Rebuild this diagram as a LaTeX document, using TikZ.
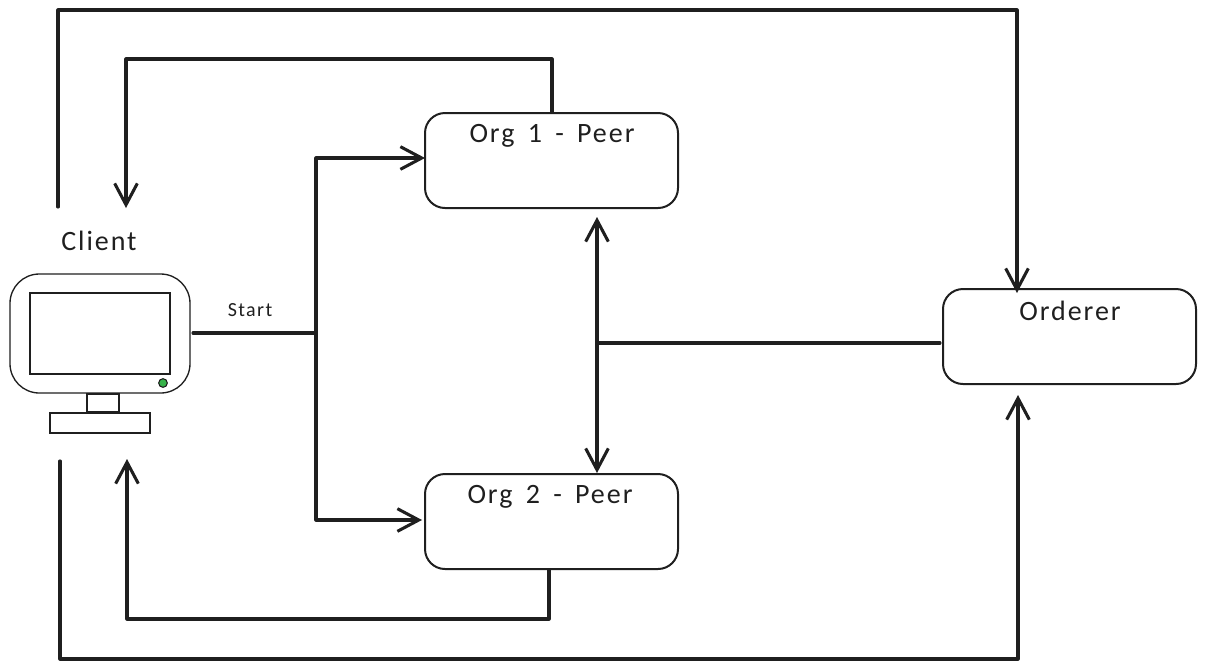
\documentclass[tikz,border=0pt]{standalone}
\usepackage{fontspec}
\setmainfont{Carlito}
\newfontfamily\sketchfont[LetterSpace=7,WordSpace=1.6]{Carlito}
\usetikzlibrary{arrows.meta}
\definecolor{ledgreen}{HTML}{36B24A}
\tikzset{
    procbox/.style={draw=black!88, line width=1.5pt, rounded corners=15pt, minimum width=189.75pt, minimum height=71.25pt, inner sep=0pt},
    devpart/.style={draw=black!88, line width=1pt, inner sep=0pt, fill=white},
    boxtext/.style={font=\sketchfont\fontsize{21}{23}\selectfont, text=black!88},
    flow/.style={draw=black!88, line width=2.3pt, line cap=round, line join=round},
    tip/.style={-{Straight Barb[length=16pt, width=17pt, line width=2.3pt]}},
    bothtip/.style={{Straight Barb[length=16pt, width=17pt, line width=2.3pt]}-{Straight Barb[length=16pt, width=17pt, line width=2.3pt]}}
}
\begin{document}
\begin{tikzpicture}[x=0.75pt, y=-0.75pt]
    \useasboundingbox (0,0) rectangle (1206,669);
    \node[procbox] (org-one) at (551.5,160.5) {};
\node[procbox] (org-two) at (551.5,521.5) {};
\node[procbox] (orderer) at (1069.5,336.5) {};
\node[boxtext] (org-one-text) at (552,136) {Org 1 - Peer};
\node[boxtext] (org-two-text) at (550,497) {Org 2 - Peer};
\node[boxtext] (orderer-text) at (1070,311) {Orderer};
\node[boxtext] (client-text) at (99,241) {Client};
\node[font=\sketchfont\fontsize{15}{17}\selectfont, text=black!88] (start-text) at (250,310) {Start};
% the client computer
\node[devpart, rounded corners=22pt, minimum width=135pt, minimum height=89.25pt] (monitor) at (100,333.5) {};
\node[devpart, minimum width=105pt, minimum height=60.75pt] (screen) at (100,333.5) {};
\node[devpart, minimum width=24pt, minimum height=13.5pt] (stand) at (103,403) {};
\node[devpart, minimum width=75pt, minimum height=15pt] (base) at (100,423) {};
\node[circle, draw=black!88, line width=0.8pt, fill=ledgreen, minimum size=6.5pt, inner sep=0pt] (led) at (163,383) {};
% free ends and turning points
\coordinate (client-up) at (58,207);
\coordinate (client-in-top) at (126,208);
\coordinate (client-in-low) at (127,459);
\coordinate (client-down) at (60,461);
\coordinate (start-from) at (193,333);
\coordinate (fork) at (316,333);
\coordinate (fork-top) at (316,158);
\coordinate (fork-low) at (316,520);
\coordinate (org-one-in) at (425,158);
\coordinate (org-two-in) at (422,520);
\coordinate (org-one-out) at (552,112);
\coordinate (org-two-out) at (549,570);
\coordinate (peer-top) at (597,217);
\coordinate (peer-low) at (597,473);
\coordinate (peer-mid) at (597,343);
\coordinate (orderer-out) at (940,343);
\coordinate (orderer-top) at (1017,293);
\coordinate (orderer-low) at (1018,395);
\draw[flow, tip] (client-up) -- (58,10) -- (1017,10) -- (orderer-top);
\draw[flow, tip] (org-one-out) -- (552,59) -- (126,59) -- (client-in-top);
\draw[flow] (start-from) -- (fork);
\draw[flow, tip] (fork) -- (fork-top) -- (org-one-in);
\draw[flow, tip] (fork) -- (fork-low) -- (org-two-in);
\draw[flow, bothtip] (peer-top) -- (peer-low);
\draw[flow] (orderer-out) -- (peer-mid);
\draw[flow, tip] (org-two-out) -- (549,619) -- (127,619) -- (client-in-low);
\draw[flow, tip] (client-down) -- (60,659) -- (1018,659) -- (orderer-low);
\end{tikzpicture}
\end{document}
